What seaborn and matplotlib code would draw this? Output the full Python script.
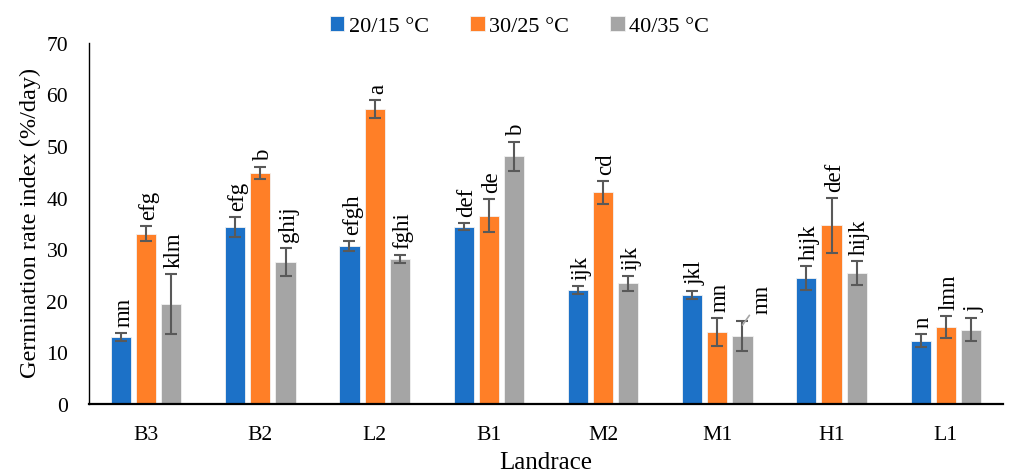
import numpy as np
import pandas as pd
import matplotlib
matplotlib.use("Agg")
import matplotlib.pyplot as plt
import seaborn as sns

# Germination rate index per landrace and temperature regime
landraces = ["B3", "B2", "L2", "B1", "M2", "M1", "H1", "L1"]
regimes = ["20/15 °C", "30/25 °C", "40/35 °C"]

gri_20_15 = [13.0, 34.3, 30.6, 34.4, 22.1, 21.1, 24.4, 12.3]
gri_30_25 = [33.0, 44.8, 57.2, 36.5, 41.0, 14.0, 34.6, 14.9]
gri_40_35 = [19.4, 27.5, 28.1, 48.0, 23.4, 13.2, 25.4, 14.4]

err_20_15 = [0.8, 1.9, 1.0, 0.7, 0.7, 0.8, 2.4, 1.2]
err_30_25 = [1.5, 1.1, 1.7, 3.2, 2.2, 2.7, 5.4, 2.1]
err_40_35 = [5.8, 2.7, 0.8, 2.8, 1.5, 2.9, 2.4, 2.2]

letters_20_15 = ["mn", "efg", "efgh", "def", "ijk", "jkl", "hijk", "n"]
letters_30_25 = ["efg", "b", "a", "de", "cd", "mn", "def", "lmn"]
letters_40_35 = ["klm", "ghij", "fghi", "b", "ijk", "mn", "hijk", "j"]

values = [gri_20_15, gri_30_25, gri_40_35]
errors = [err_20_15, err_30_25, err_40_35]
letters = [letters_20_15, letters_30_25, letters_40_35]

df = pd.DataFrame({
    "Landrace": np.tile(landraces, len(regimes)),
    "Regime": np.repeat(regimes, len(landraces)),
    "GRI": np.concatenate(values),
})

colors = ["#1C71C7", "#FF7F27", "#A5A5A5"]

plt.rcParams["font.family"] = ["Liberation Serif", "DejaVu Serif"]

fig = plt.figure(figsize=(10.12, 4.77), dpi=100)
ax = fig.add_axes([0.088, 0.151, 0.903, 0.757])

sns.barplot(data=df, x="Landrace", y="GRI", hue="Regime", order=landraces,
            hue_order=regimes, palette=colors, width=0.66, gap=0.2,
            errorbar=None, saturation=1, edgecolor="#F2F2F2", linewidth=0.6,
            ax=ax)

bar_groups = list(ax.containers)

# error bars and significance letters on every bar
for k, cont in enumerate(bar_groups):
    for i, bar in enumerate(cont):
        xc = bar.get_x() + bar.get_width() / 2
        h = bar.get_height()
        ax.errorbar(xc, h, yerr=errors[k][i], fmt="none", ecolor="#595959",
                    elinewidth=1.5, capsize=4, capthick=1.5, zorder=3)
        top = h + errors[k][i]
        if letters[k][i] == "mn" and landraces[i] == "M1" and k == 2:
            # this letter sits off to the side with a short leader line
            ax.annotate(letters[k][i], xy=(xc, top - 0.8), xytext=(14, 9),
                        textcoords="offset points", rotation=90,
                        ha="center", va="bottom", fontsize=16.5,
                        arrowprops=dict(arrowstyle="-", color="#A5A5A5",
                                        lw=1.2, shrinkA=0, shrinkB=0))
        else:
            ax.annotate(letters[k][i], xy=(xc, top), xytext=(2, 5),
                        textcoords="offset points", rotation=90,
                        ha="center", va="bottom", fontsize=16.5)

ax.set_ylim(0, 70)
ax.set_xlim(-0.5, len(landraces) - 0.5)
ax.set_yticks(np.arange(0, 71, 10))
ax.tick_params(axis="both", length=0, labelsize=15.6)
ax.tick_params(axis="y", pad=15)
ax.tick_params(axis="x", pad=15)
ax.set_xlabel("Landrace", fontsize=18, va="baseline")
ax.set_ylabel("Germination rate index (%/day)", fontsize=17.5)
ax.xaxis.set_label_coords(0.5, -0.178)
ax.yaxis.set_label_coords(-0.053, 0.505)

for side in ["top", "right"]:
    ax.spines[side].set_visible(False)
ax.spines["left"].set_color("black")
ax.spines["left"].set_linewidth(1.0)
ax.spines["bottom"].set_color("black")
ax.spines["bottom"].set_linewidth(1.6)

handles, labs = ax.get_legend_handles_labels()
ax.legend(handles, labs, loc="upper center", bbox_to_anchor=(0.471, 1.13),
          ncol=3, frameon=False, fontsize=16, handlelength=0.65,
          handleheight=0.65, handletextpad=0.2, columnspacing=1.86)

fig.savefig("out.png", dpi=100)
